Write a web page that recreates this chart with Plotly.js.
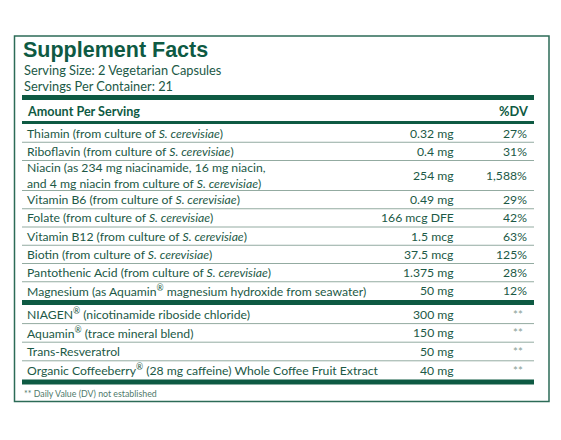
<!DOCTYPE html>
<html>
<head>
<meta charset="utf-8">
<script src="https://cdn.plot.ly/plotly-3.0.1.min.js"></script>
<style>html,body{margin:0;padding:0;background:#fff;}#chart{width:561px;height:440px;}</style>
</head>
<body>
<div id="chart"></div>
<script>
// ---- Data ----
var titleText = "Supplement Facts";
var servingSize = "Serving Size: 2 Vegetarian Capsules";
var servingsPer = "Servings Per Container: 21";
var headerLeft = "Amount Per Serving";
var headerRight = "%DV";

var vitaminNames = [
  "Thiamin (from culture of <i>S. cerevisiae</i>)",
  "Riboflavin (from culture of <i>S. cerevisiae</i>)",
  "Niacin (as 234 mg niacinamide, 16 mg niacin,<br>and 4 mg niacin from culture of <i>S. cerevisiae</i>)",
  "Vitamin B6 (from culture of <i>S. cerevisiae</i>)",
  "Folate (from culture of <i>S. cerevisiae</i>)",
  "Vitamin B12 (from culture of <i>S. cerevisiae</i>)",
  "Biotin (from culture of <i>S. cerevisiae</i>)",
  "Pantothenic Acid (from culture of <i>S. cerevisiae</i>)",
  "Magnesium (as Aquamin<sup>®</sup> magnesium hydroxide from seawater)"
];
var vitaminAmounts = ["0.32 mg", "0.4 mg", "254 mg", "0.49 mg", "166 mcg DFE", "1.5 mcg", "37.5 mcg", "1.375 mg", "50 mg"];
var vitaminDV = ["27%", "31%", "1,588%", "29%", "42%", "63%", "125%", "28%", "12%"];

var otherNames = [
  "NIAGEN<sup>®</sup> (nicotinamide riboside chloride)",
  "Aquamin<sup>®</sup> (trace mineral blend)",
  "Trans-Resveratrol",
  "Organic Coffeeberry<sup>®</sup> (28 mg caffeine) Whole Coffee Fruit Extract"
];
var otherAmounts = ["300 mg", "150 mg", "50 mg", "40 mg"];
var otherDV = ["**", "**", "**", "**"];

var footnote = "** Daily Value (DV) not established";

// ---- Styling / layout ----
var GREEN = "#0e5a43";
var TEXT = "#1c5946";
var THIN = "#93aba1";
var FONT = "Lato, 'Open Sans', sans-serif";
var BODY = 12.2;
var L = 22, R = 534, NAMEX = 25, AMTX = 456, DVX = 529;

var shapes = [];
var ann = [];

function styled(t) {
  return t.replace(/<i>/g, '<span style="font-style:italic;font-size:' + BODY + 'px">')
          .replace(/<\/i>/g, '</span>');
}
function text(x, y, t, opts) {
  var o = Object.assign({xref: "x", yref: "y", x: x, y: y, text: styled(t), showarrow: false,
    xanchor: "left", yanchor: "middle", align: "left",
    font: {family: FONT, size: BODY, color: TEXT}}, opts || {});
  ann.push(o);
}
function bar(y0, y1) {
  shapes.push({type: "rect", xref: "x", yref: "y", x0: L, x1: R, y0: y0, y1: y1,
    fillcolor: GREEN, line: {width: 0}});
}
function hline(y, w, c) {
  shapes.push({type: "line", xref: "x", yref: "y", x0: L, x1: R, y0: y, y1: y,
    line: {color: c, width: w}});
}

// border
shapes.push({type: "rect", xref: "x", yref: "y", x0: 14.5, x1: 549, y0: 36, y1: 401.5,
  line: {color: "#2c6b57", width: 1.5}, fillcolor: "rgba(0,0,0,0)"});

text(L - 1, 49.5, titleText, {font: {family: "'Liberation Sans', Arial, sans-serif", size: 21.5, color: GREEN, weight: "bold"}});
text(L, 70, servingSize, {font: {family: FONT, size: 12.8, color: TEXT}});
text(L, 86, servingsPer, {font: {family: FONT, size: 12.8, color: TEXT}});
bar(95, 100);
text(NAMEX, 111, headerLeft, {font: {family: FONT, size: 12.6, color: GREEN, weight: "bold"}});
text(DVX + 1, 111, headerRight, {xanchor: "right", font: {family: FONT, size: 12.8, color: GREEN, weight: "bold"}});
bar(121, 124);

function section(names, amounts, dvs, yStart, h, h2, starDV) {
  var y = yStart;
  for (var i = 0; i < names.length; i++) {
    var twoLine = names[i].indexOf("<br>") >= 0;
    var rh = twoLine ? h2 : h;
    var cy = y + rh / 2;
    text(NAMEX, cy, names[i]);
    text(AMTX, cy, amounts[i], {xanchor: "right", align: "right"});
    if (starDV) {
      text(DVX - 4.5, cy, dvs[i], {xanchor: "right", align: "right", font: {family: FONT, size: 11.5, color: "#8a9f97"}});
    } else {
      text(DVX, cy, dvs[i], {xanchor: "right", align: "right"});
    }
    y += rh;
    if (i < names.length - 1) hline(y, 1, THIN);
  }
  return y;
}

var yEnd1 = section(vitaminNames, vitaminAmounts, vitaminDV, 124, 18.25, 30, false);
bar(yEnd1, yEnd1 + 5);
var yEnd2 = section(otherNames, otherAmounts, otherDV, yEnd1 + 5, 18.6, 30, true);
bar(yEnd2, yEnd2 + 5);
text(L, yEnd2 + 14.5, footnote, {font: {family: FONT, size: 8.8, color: "#4f7a6b"}});

var layout = {
  width: 561, height: 440,
  margin: {l: 0, r: 0, t: 0, b: 0},
  paper_bgcolor: "#ffffff", plot_bgcolor: "#ffffff",
  showlegend: false,
  xaxis: {range: [0, 561], visible: false, fixedrange: true},
  yaxis: {range: [440, 0], visible: false, fixedrange: true},
  shapes: shapes,
  annotations: ann
};

Plotly.newPlot("chart", [{x: [], y: [], type: "scatter", mode: "markers", hoverinfo: "skip"}], layout, {staticPlot: true, displayModeBar: false});
</script>
</body>
</html>
